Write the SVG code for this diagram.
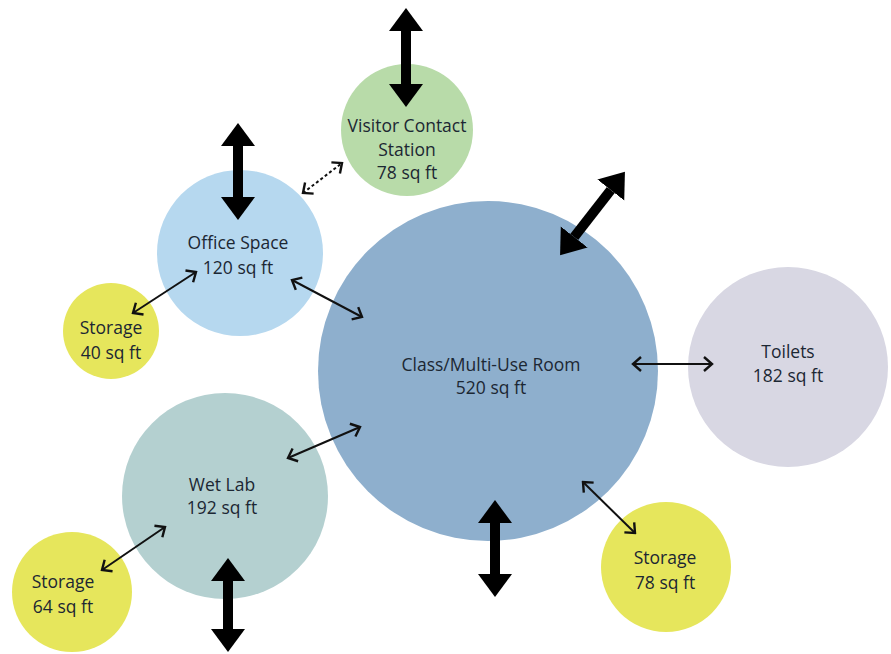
<svg xmlns="http://www.w3.org/2000/svg" width="891" height="654" viewBox="0 0 891 654">
<defs>
<style>
.lbl{font-family:"Open Sans","Liberation Sans",sans-serif;font-size:17.5px;fill:#1c2733;text-anchor:middle}
.thick{stroke:#000;stroke-width:10;fill:none}
.thin{stroke:#111;stroke-width:2;fill:none}
.dot{stroke:#111;stroke-width:2;fill:none;stroke-dasharray:3 2.5}
</style>
<marker id="big" markerUnits="userSpaceOnUse" markerWidth="24" markerHeight="36" viewBox="0 -18 24 36" refX="0" refY="0" orient="auto-start-reverse">
<path d="M0,-17 L23,0 L0,17 Z" fill="#000"/>
</marker>
<marker id="chev" markerUnits="userSpaceOnUse" markerWidth="14" markerHeight="18" viewBox="-12 -9 14 18" refX="0" refY="0" orient="auto-start-reverse">
<path d="M-8,-7 L0,0 L-8,7" fill="none" stroke="#111" stroke-width="2.4"/>
</marker>
</defs>
<rect width="891" height="654" fill="#fff"/>
<g id="main"><circle cx="488" cy="371" r="170" fill="#8eafcd"/><text class="lbl" x="491" y="371">Class/Multi-Use Room</text><text class="lbl" x="491" y="394">520 sq ft</text></g>
<g id="toilets"><circle cx="788" cy="367" r="100" fill="#d8d7e3"/><text class="lbl" x="788" y="358">Toilets</text><text class="lbl" x="788" y="382">182 sq ft</text></g>
<g id="storage78"><circle cx="666" cy="567" r="65" fill="#e6e65c"/><text class="lbl" x="665" y="564">Storage</text><text class="lbl" x="665" y="589">78 sq ft</text></g>
<g id="office"><circle cx="240" cy="253" r="83" fill="#b6d8ef"/><text class="lbl" x="238" y="249">Office Space</text><text class="lbl" x="238" y="274">120 sq ft</text></g>
<g id="visitor"><circle cx="407" cy="130" r="66" fill="#b8dba9"/><text class="lbl" x="407" y="132">Visitor Contact</text><text class="lbl" x="407" y="156">Station</text><text class="lbl" x="407" y="179">78 sq ft</text></g>
<g id="storage40"><circle cx="111" cy="331" r="48" fill="#e6e65c"/><text class="lbl" x="111" y="334">Storage</text><text class="lbl" x="111" y="359">40 sq ft</text></g>
<g id="wetlab"><circle cx="225" cy="496" r="103" fill="#b4d0d0"/><text class="lbl" x="222" y="491">Wet Lab</text><text class="lbl" x="222" y="514">192 sq ft</text></g>
<g id="storage64"><circle cx="72" cy="592" r="60" fill="#e6e65c"/><text class="lbl" x="63" y="588">Storage</text><text class="lbl" x="63" y="613">64 sq ft</text></g>
<g id="connectors">
<line class="thick" x1="406" y1="31" x2="406" y2="84" marker-start="url(#big)" marker-end="url(#big)"/>
<line class="thick" x1="238" y1="146" x2="238" y2="197" marker-start="url(#big)" marker-end="url(#big)"/>
<line class="thick" x1="610.8" y1="190" x2="574.2" y2="237" marker-start="url(#big)" marker-end="url(#big)"/>
<line class="thick" x1="495" y1="523" x2="495" y2="574" marker-start="url(#big)" marker-end="url(#big)"/>
<line class="thick" x1="228" y1="581" x2="228" y2="629" marker-start="url(#big)" marker-end="url(#big)"/>
<line class="thin" x1="133" y1="313" x2="196" y2="272" marker-start="url(#chev)" marker-end="url(#chev)"/>
<line class="thin" x1="292" y1="280" x2="362" y2="317" marker-start="url(#chev)" marker-end="url(#chev)"/>
<line class="dot" x1="303" y1="193" x2="342" y2="163" marker-start="url(#chev)" marker-end="url(#chev)"/>
<line class="thin" x1="633" y1="364" x2="712" y2="364" marker-start="url(#chev)" marker-end="url(#chev)"/>
<line class="thin" x1="583" y1="482" x2="635" y2="533" marker-start="url(#chev)" marker-end="url(#chev)"/>
<line class="thin" x1="288" y1="458" x2="360" y2="427" marker-start="url(#chev)" marker-end="url(#chev)"/>
<line class="thin" x1="102" y1="570" x2="165" y2="527" marker-start="url(#chev)" marker-end="url(#chev)"/>
</g>
</svg>
